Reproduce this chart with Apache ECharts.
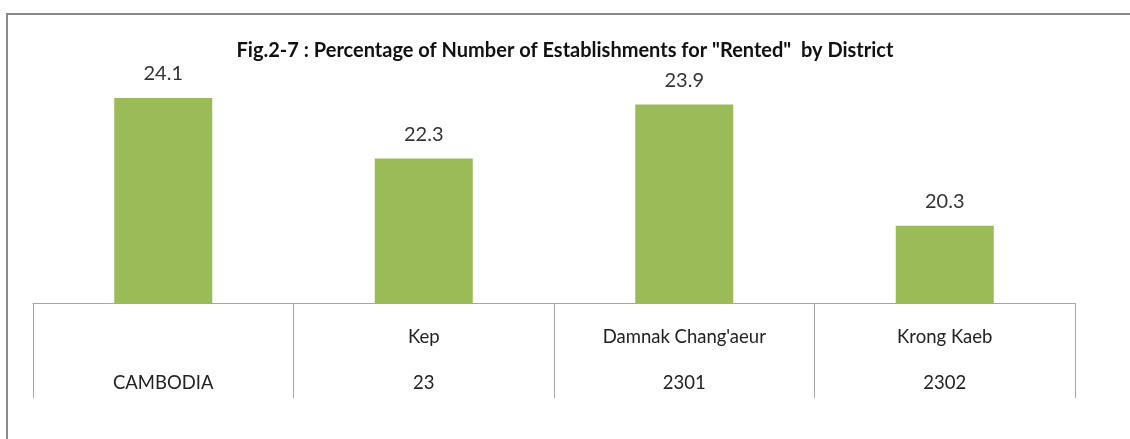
<!DOCTYPE html>
<html>
<head>
<meta charset="utf-8">
<script src="https://cdn.jsdelivr.net/npm/echarts@6/dist/echarts.min.js"></script>
<style>
  html, body { margin: 0; padding: 0; background: #fff; }
  #chart { width: 1130px; height: 439px; }
</style>
</head>
<body>
<div id="chart"></div>
<script>
// data
const districtNames = ['', 'Kep', "Damnak Chang'aeur", 'Krong Kaeb'];
const districtCodes = ['CAMBODIA', '23', '2301', '2302'];
const rentedPct = [24.1, 22.3, 23.9, 20.3];
const titleText = 'Fig.2-7 : Percentage of Number of Establishments for "Rented"  by District';

const categories = districtNames.map((n, i) => n + '\n' + districtCodes[i]);

const chart = echarts.init(document.getElementById('chart'));

const option = {
  backgroundColor: '#fff',
  textStyle: { fontFamily: 'Lato, "Open Sans", sans-serif' },
  title: {
    text: titleText,
    left: 'center',
    top: 36,
    textStyle: { fontSize: 20, fontWeight: 'bold', color: '#111', fontFamily: 'Lato, sans-serif' }
  },
  graphic: [
    {
      type: 'rect',
      silent: true,
      shape: { x: 7, y: 14, width: 1200, height: 500 },
      style: { fill: 'none', stroke: '#8a8a8a', lineWidth: 2 }
    }
  ],
  grid: { left: 33, right: 55, top: 34, bottom: 136 },
  xAxis: {
    type: 'category',
    data: categories,
    axisLine: { show: true, lineStyle: { color: '#a6a6a6', width: 1 } },
    axisTick: { show: true, length: 95, interval: 0, lineStyle: { color: '#a6a6a6', width: 1 } },
    axisLabel: {
      interval: 0,
      margin: 11,
      fontSize: 18.5,
      lineHeight: 46,
      color: '#222'
    }
  },
  yAxis: {
    type: 'value',
    min: 18,
    max: 26,
    show: false,
    splitLine: { show: false }
  },
  series: [
    {
      type: 'bar',
      data: rentedPct,
      barWidth: 98,
      itemStyle: { color: '#9bbb59' },
      label: {
        show: true,
        position: 'top',
        distance: 14,
        fontSize: 20,
        color: '#333'
      }
    }
  ]
};

chart.setOption(option);
</script>
</body>
</html>
